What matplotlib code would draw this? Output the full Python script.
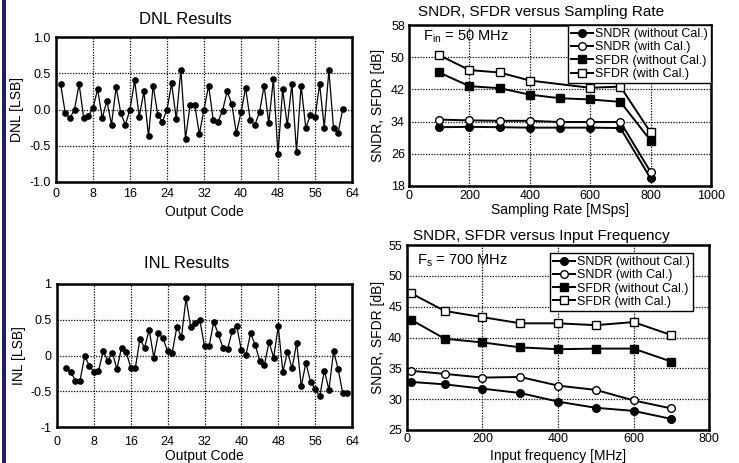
import matplotlib
matplotlib.use("Agg")
import matplotlib.pyplot as plt
from matplotlib.patches import Rectangle

plt.rcParams['font.family'] = ['Liberation Sans', 'DejaVu Sans']

# ---------------- data ----------------
dnl_codes = list(range(1, 63))
dnl_values = [0.35, -0.05, -0.12, 0.00, 0.35, -0.12, -0.09, 0.02, 0.28, -0.12,
              0.12, -0.21, 0.31, -0.05, -0.21, 0.00, 0.40, -0.10, 0.25, -0.37,
              0.33, -0.07, -0.17, 0.00, 0.36, -0.13, 0.55, -0.40, 0.06, 0.06,
              -0.34, 0.00, 0.33, -0.15, -0.17, -0.02, 0.25, 0.08, -0.33, -0.04,
              0.30, -0.15, -0.21, -0.04, 0.33, -0.19, 0.42, -0.62, 0.28, -0.22,
              0.35, -0.58, 0.33, -0.25, -0.08, -0.11, 0.35, -0.25, 0.54, -0.25,
              -0.32, 0.01]

inl_codes = list(range(2, 64))
inl_values = [-0.17, -0.23, -0.35, -0.35, -0.01, -0.14, -0.23, -0.22, 0.06, -0.07,
              0.04, -0.19, 0.11, 0.05, -0.17, -0.17, 0.23, 0.11, 0.36, -0.03,
              0.31, 0.24, 0.06, 0.04, 0.40, 0.26, 0.80, 0.40, 0.45, 0.49,
              0.13, 0.13, 0.47, 0.30, 0.11, 0.09, 0.34, 0.41, 0.07, 0.01,
              0.31, 0.15, -0.08, -0.13, 0.19, -0.03, 0.41, -0.23, 0.05, -0.18,
              0.18, -0.43, -0.10, -0.37, -0.47, -0.57, -0.21, -0.48, 0.06, -0.19,
              -0.53, -0.53]

fs_rate = [100, 200, 300, 400, 500, 600, 700, 800]
fs_sndr_wo = [32.6, 32.7, 32.6, 32.5, 32.5, 32.5, 32.4, 19.9]
fs_sndr_w = [34.5, 34.3, 34.2, 34.2, 33.9, 33.9, 33.9, 21.5]
fs_sfdr_wo = [46.2, 42.8, 42.3, 40.7, 39.8, 39.5, 38.9, 29.3]
fs_rate_sfdr_w = [100, 200, 300, 400, 600, 700, 800]
fs_sfdr_w = [50.5, 46.8, 46.2, 44.2, 42.4, 42.7, 31.3]

fin = [10, 100, 200, 300, 400, 500, 600, 700]
fin_sndr_wo = [32.8, 32.4, 31.7, 31.0, 29.6, 28.6, 28.1, 26.8]
fin_sndr_w = [34.6, 34.1, 33.5, 33.6, 32.2, 31.5, 29.8, 28.5]
fin_sfdr_wo = [42.9, 39.8, 39.2, 38.4, 38.1, 38.2, 38.2, 36.1]
fin_sfdr_w = [47.2, 44.3, 43.3, 42.3, 42.3, 42.0, 42.5, 40.4]

code_ticks = [0, 8, 16, 24, 32, 40, 48, 56, 64]
series_labels = ['SNDR (without Cal.)', 'SNDR (with Cal.)',
                 'SFDR (without Cal.)', 'SFDR (with Cal.)']

# ---------------- figure ----------------
W, H = 739, 463
fig = plt.figure(figsize=(W / 100, H / 100), dpi=100)


def add_ax(l, t, r, b):
    return fig.add_axes([l / W, 1 - b / H, (r - l) / W, (b - t) / H])


def style(ax, xpad, ypad):
    for s in ax.spines.values():
        s.set_linewidth(1.8)
        s.set_color('black')
    ax.tick_params(length=0, labelsize=9)
    ax.tick_params(axis='x', pad=xpad)
    ax.tick_params(axis='y', pad=ypad)
    ax.grid(True, linestyle=(0, (1, 1.2)), color='black', linewidth=0.9)
    ax.set_axisbelow(True)


def place_labels(ax, box, xlabel, ylabel, xlab_y, ylab_x):
    l, t, r, b = box
    ax.set_xlabel(xlabel, fontsize=10)
    ax.set_ylabel(ylabel, fontsize=10)
    ax.xaxis.set_label_coords(0.5, -(xlab_y - b) / (b - t))
    ax.xaxis.label.set_va('center')
    ax.yaxis.set_label_coords(-(l - ylab_x) / (r - l), 0.5)
    ax.yaxis.label.set_va('center')


# left border
fig.patches.append(Rectangle((2 / W, 0), 4 / W, 1, transform=fig.transFigure,
                             facecolor='#1c1c7a', edgecolor='none'))

# DNL
box1 = (56, 37, 352, 182)
ax1 = add_ax(*box1)
ax1.plot(dnl_codes, dnl_values, '-o', color='black', lw=0.9, ms=3.8)
ax1.set_xlim(0, 64)
ax1.set_ylim(-1, 1)
ax1.set_xticks(code_ticks)
ax1.set_yticks([-1, -0.5, 0, 0.5, 1])
ax1.set_yticklabels(['-1.0', '-0.5', '0.0', '0.5', '1.0'])
style(ax1, 4, 4)
place_labels(ax1, box1, 'Output Code', 'DNL [LSB]', 212, 17)
fig.text(185 / W, 1 - 20 / H, 'DNL Results', ha='center', va='center', fontsize=12)

# INL
box2 = (57, 284, 352, 427)
ax2 = add_ax(*box2)
ax2.plot(inl_codes, inl_values, '-o', color='black', lw=0.9, ms=3.8)
ax2.set_xlim(0, 64)
ax2.set_ylim(-1, 1)
ax2.set_xticks(code_ticks)
ax2.set_yticks([-1, -0.5, 0, 0.5, 1])
ax2.set_yticklabels(['-1', '-0.5', '0', '0.5', '1'])
style(ax2, 6.5, 4)
place_labels(ax2, box2, 'Output Code', 'INL [LSB]', 456, 19)
fig.text(187 / W, 1 - 263 / H, 'INL Results', ha='center', va='center', fontsize=12)

mk = dict(color='black', lw=1.4, ms=5.5, mew=1.0, mec='black')


def plot4(ax, xs, ys, xs_sfdr_w):
    l1, = ax.plot(xs, ys[0], '-o', mfc='black', **mk)
    l2, = ax.plot(xs, ys[1], '-o', mfc='white', **mk)
    l3, = ax.plot(xs, ys[2], '-s', mfc='black', **mk)
    l4, = ax.plot(xs_sfdr_w, ys[3], '-s', mfc='white', **mk)
    return [l1, l2, l3, l4]


def add_legend(ax, h, anchor):
    leg = ax.legend(h, series_labels, loc='upper right', bbox_to_anchor=anchor,
                    fontsize=9, frameon=True, fancybox=False, handlelength=1.8,
                    handletextpad=0.15, borderpad=0.25, labelspacing=0.1,
                    borderaxespad=0, framealpha=1)
    leg.get_frame().set_edgecolor('black')
    leg.get_frame().set_linewidth(1.0)


# SNDR/SFDR vs sampling rate
box3 = (409, 25, 711, 186)
ax3 = add_ax(*box3)
h = plot4(ax3, fs_rate, [fs_sndr_wo, fs_sndr_w, fs_sfdr_wo, fs_sfdr_w], fs_rate_sfdr_w)
ax3.set_xlim(0, 1000)
ax3.set_ylim(18, 58)
ax3.set_xticks([0, 200, 400, 600, 800, 1000])
ax3.set_yticks([18, 26, 34, 42, 50, 58])
style(ax3, 3, 3)
place_labels(ax3, box3, 'Sampling Rate [MSps]', 'SNDR, SFDR [dB]', 210, 378)
add_legend(ax3, h, (1.0, 1.0))
ax3.text(0.046, 0.925, r'F$_{\mathregular{in}}$ = 50 MHz', transform=ax3.transAxes,
         fontsize=10.5, va='center')
fig.text(541 / W, 1 - 12 / H, 'SNDR, SFDR versus Sampling Rate', ha='center',
         va='center', fontsize=11)

# SNDR/SFDR vs input frequency
box4 = (407, 245, 709, 430)
ax4 = add_ax(*box4)
h = plot4(ax4, fin, [fin_sndr_wo, fin_sndr_w, fin_sfdr_wo, fin_sfdr_w], fin)
ax4.set_xlim(0, 800)
ax4.set_ylim(25, 55)
ax4.set_xticks([0, 200, 400, 600, 800])
ax4.set_yticks([25, 30, 35, 40, 45, 50, 55])
style(ax4, 2.5, 3.5)
place_labels(ax4, box4, 'Input frequency [MHz]', 'SNDR, SFDR [dB]', 456, 378)
add_legend(ax4, h, (0.947, 0.957))
ax4.text(0.033, 0.914, r'F$_{\mathregular{s}}$ = 700 MHz', transform=ax4.transAxes,
         fontsize=10.5, va='center')
fig.text(541 / W, 1 - 236 / H, 'SNDR, SFDR versus Input Frequency', ha='center',
         va='center', fontsize=11)

fig.savefig('out.png', dpi=100)
